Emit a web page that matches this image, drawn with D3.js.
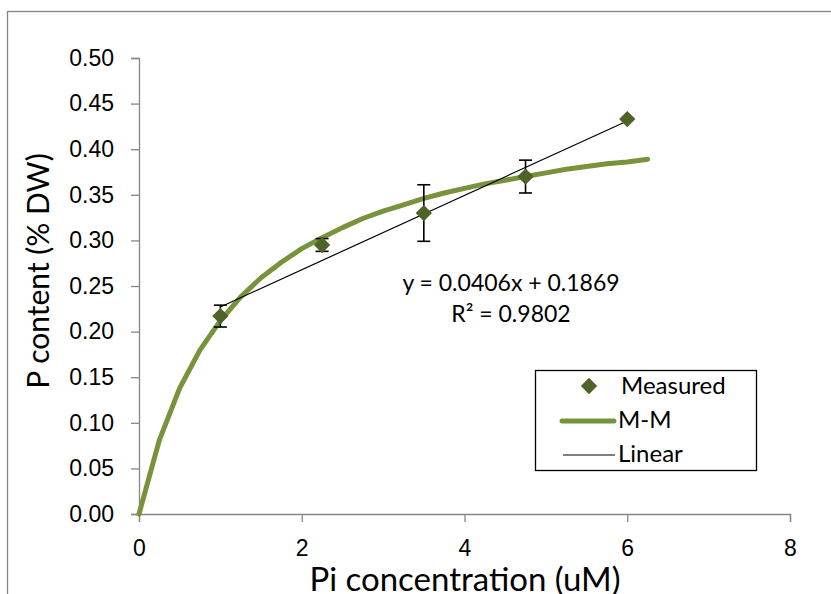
<!DOCTYPE html>
<html>
<head>
<meta charset="utf-8">
<script src="https://cdn.jsdelivr.net/npm/d3@7"></script>
<style>
  body { margin: 0; background: #fff; }
  svg { display: block; font-family: Lato, "Open Sans", sans-serif; }
  .axis path, .axis line { stroke: #868686; stroke-width: 1.3; }
  .axis text { font-size: 23px; fill: #000; }
</style>
</head>
<body>
<svg id="chart" width="831" height="594"></svg>
<script>
// measured P content vs Pi concentration
const concentration = [1, 2.25, 3.5, 4.75, 6];
const pContent = [0.217, 0.295, 0.330, 0.370, 0.433];
const pError = [0.012, 0.007, 0.031, 0.018, 0];

// Michaelis-Menten curve
const mmX = [0, 0.25, 0.5, 0.75, 1, 1.25, 1.5, 1.75, 2, 2.25, 2.5, 2.75, 3,
             3.25, 3.5, 3.75, 4, 4.25, 4.5, 4.75, 5, 5.25, 5.5, 5.75, 6, 6.25];
const mmY = [0, 0.081, 0.138, 0.180, 0.212, 0.238, 0.259, 0.276, 0.291, 0.303,
             0.314, 0.324, 0.332, 0.339, 0.346, 0.352, 0.357, 0.362, 0.366,
             0.370, 0.374, 0.378, 0.381, 0.384, 0.386, 0.389];

// linear trendline end points
const trendX = [1, 6];
const trendY = [0.227, 0.431];

const xTicks = [0, 2, 4, 6, 8];
const yTicks = [0, 0.05, 0.1, 0.15, 0.2, 0.25, 0.3, 0.35, 0.4, 0.45, 0.5];
const legendItems = ['Measured', 'M-M', 'Linear'];
const equationLines = ['y = 0.0406x + 0.1869', 'R\u00b2 = 0.9802'];

const markerColor = '#4f6228';
const curveColor = '#77933c';

const svg = d3.select('#chart');

// outer chart border
svg.append('rect')
    .attr('x', 7.5).attr('y', 11.5)
    .attr('width', 900).attr('height', 700)
    .attr('fill', 'none')
    .attr('stroke', '#868686')
    .attr('stroke-width', 1.3);

const x = d3.scaleLinear().domain([0, 8]).range([139, 790]);
const y = d3.scaleLinear().domain([0, 0.5]).range([514, 58]);

svg.append('g')
    .attr('class', 'axis')
    .attr('transform', `translate(${x(0)},0)`)
    .call(d3.axisLeft(y)
              .tickValues(yTicks)
              .tickFormat(d3.format('.2f'))
              .tickSizeInner(8)
              .tickSizeOuter(8)
              .tickPadding(17));

svg.append('g')
    .attr('class', 'axis')
    .attr('transform', `translate(0,${y(0)})`)
    .call(d3.axisBottom(x)
              .tickValues(xTicks)
              .tickFormat(d3.format('d'))
              .tickSizeInner(8)
              .tickSizeOuter(8)
              .tickPadding(18));

svg.selectAll('.axis .domain').attr('fill', 'none');

// axis titles
svg.append('text')
    .attr('x', 465)
    .attr('y', 591)
    .attr('text-anchor', 'middle')
    .style('font-size', '33px')
    .text('Pi concentration (uM)');

svg.append('text')
    .attr('transform', 'translate(49,271) rotate(-90)')
    .attr('text-anchor', 'middle')
    .style('font-size', '30px')
    .text('P content (% DW)');

// M-M curve
const line = d3.line().x(d => x(d[0])).y(d => y(d[1]));
svg.append('path')
    .datum(d3.zip(mmX, mmY))
    .attr('d', line)
    .attr('fill', 'none')
    .attr('stroke', curveColor)
    .attr('stroke-width', 5)
    .attr('stroke-linecap', 'round')
    .attr('stroke-linejoin', 'round');

// linear trendline
svg.append('path')
    .datum(d3.zip(trendX, trendY))
    .attr('d', line)
    .attr('fill', 'none')
    .attr('stroke', '#000')
    .attr('stroke-width', 1.2);

// error bars
const measured = concentration.map((c, i) => ({x: c, y: pContent[i], e: pError[i]}));
const bars = svg.append('g')
    .selectAll('g')
    .data(measured.filter(d => d.e > 0))
    .join('g')
    .attr('stroke', '#000')
    .attr('stroke-width', 1.6);

bars.append('line')
    .attr('x1', d => x(d.x)).attr('x2', d => x(d.x))
    .attr('y1', d => y(d.y - d.e)).attr('y2', d => y(d.y + d.e));
bars.append('line')
    .attr('x1', d => x(d.x) - 6.5).attr('x2', d => x(d.x) + 6.5)
    .attr('y1', d => y(d.y + d.e)).attr('y2', d => y(d.y + d.e));
bars.append('line')
    .attr('x1', d => x(d.x) - 6.5).attr('x2', d => x(d.x) + 6.5)
    .attr('y1', d => y(d.y - d.e)).attr('y2', d => y(d.y - d.e));

// markers
const diamond = d3.symbol().type(d3.symbolDiamond2).size(170);
svg.append('g')
    .selectAll('path')
    .data(measured)
    .join('path')
    .attr('transform', d => `translate(${x(d.x)},${y(d.y)})`)
    .attr('d', diamond)
    .attr('fill', markerColor);

// trendline label
svg.append('g')
    .selectAll('text')
    .data(equationLines)
    .join('text')
    .attr('x', 511)
    .attr('y', (d, i) => 291 + i * 31)
    .attr('text-anchor', 'middle')
    .style('font-size', '23px')
    .text(d => d);

// legend
const legend = svg.append('g');
legend.append('rect')
    .attr('x', 535.5).attr('y', 370.5)
    .attr('width', 221).attr('height', 100)
    .attr('fill', '#fff')
    .attr('stroke', '#000')
    .attr('stroke-width', 1.3);

legend.append('path')
    .attr('transform', 'translate(589,386)')
    .attr('d', diamond)
    .attr('fill', markerColor);
legend.append('line')
    .attr('x1', 562).attr('x2', 614)
    .attr('y1', 421).attr('y2', 421)
    .attr('stroke', curveColor)
    .attr('stroke-width', 5)
    .attr('stroke-linecap', 'round');
legend.append('line')
    .attr('x1', 563).attr('x2', 615)
    .attr('y1', 455).attr('y2', 455)
    .attr('stroke', '#000')
    .attr('stroke-width', 1.2);

legend.selectAll('text')
    .data(legendItems)
    .join('text')
    .attr('x', (d, i) => i === 0 ? 621 : 618)
    .attr('y', (d, i) => 394 + i * 34)
    .style('font-size', '24px')
    .text(d => d);
</script>
</body>
</html>
